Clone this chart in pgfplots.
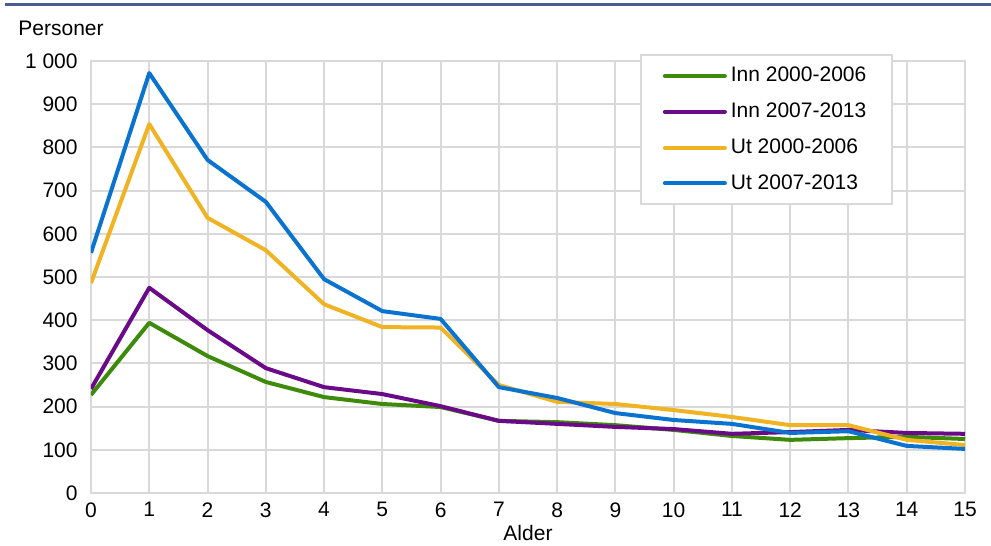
\documentclass[border=0pt]{standalone}
\usepackage{pgfplots}
\pgfplotsset{compat=1.18}
\usepackage{fontspec}
\setmainfont{Liberation Sans}
\definecolor{cgreen}{HTML}{3E8A0A}
\definecolor{cpurple}{HTML}{6A0A88}
\definecolor{cyellow}{HTML}{F0B323}
\definecolor{cblue}{HTML}{0A73D0}
\definecolor{cgrid}{HTML}{D9D9D9}
\definecolor{ctop}{HTML}{475E8E}
\begin{document}
\fontsize{10.5pt}{12.5pt}\selectfont
\begin{tikzpicture}
\useasboundingbox (-45.5pt,-26.5pt) rectangle (450pt,246.5pt);
\draw[ctop, line width=1.5pt] (-43pt,244pt) -- (450pt,244pt);
\node[anchor=west, inner sep=0pt] at (-36.5pt,232.5pt) {Personer};
\begin{axis}[
  at={(0,0)}, anchor=origin,
  scale only axis, width=437pt, height=216pt,
  xmin=0, xmax=15, ymin=0, ymax=1000,
  xtick={0,...,15}, ytick={0,100,...,1000},
  yticklabels={0,100,200,300,400,500,600,700,800,900,1 000},
  /pgf/number format/assume math mode=true,
  ticklabel style={font=\fontsize{10.5pt}{12.5pt}\selectfont},
  tick style={draw=none},
  grid=major,
  grid style={cgrid, line width=1pt},
  axis line style={cgrid, line width=1pt},
  yticklabel style={xshift=-3pt},
  xticklabel style={yshift=-1pt},
  xlabel={Alder},
  label style={font=\fontsize{10.5pt}{12.5pt}\selectfont},
  xlabel style={yshift=3pt},
  legend cell align=left,
  legend style={at={(0.628,1.016)}, anchor=north west, draw=cgrid, line width=1pt,
    font=\fontsize{10.5pt}{12.5pt}\selectfont, inner xsep=11pt, inner ysep=4pt,
    row sep=5pt},
  legend image code/.code={\draw[#1, line width=2pt, line cap=round] (0pt,0pt) -- (30pt,0pt);},
  every axis plot/.append style={line width=2pt, line join=round},
]
\addplot[cgreen] coordinates {(0,227)(1,394)(2,317)(3,257)(4,222)(5,206)(6,199)(7,167)(8,164)(9,157)(10,146)(11,132)(12,123)(13,127)(14,130)(15,125)};
\addlegendentry{Inn 2000-2006}
\addplot[cpurple] coordinates {(0,241)(1,475)(2,377)(3,289)(4,245)(5,229)(6,201)(7,167)(8,160)(9,153)(10,148)(11,137)(12,141)(13,146)(14,139)(15,137)};
\addlegendentry{Inn 2007-2013}
\addplot[cyellow] coordinates {(0,486)(1,854)(2,637)(3,562)(4,437)(5,384)(6,383)(7,250)(8,211)(9,206)(10,192)(11,176)(12,157)(13,157)(14,123)(15,111)};
\addlegendentry{Ut 2000-2006}
\addplot[cblue] coordinates {(0,556)(1,972)(2,771)(3,674)(4,495)(5,421)(6,403)(7,245)(8,220)(9,185)(10,169)(11,160)(12,139)(13,143)(14,109)(15,102)};
\addlegendentry{Ut 2007-2013}
\end{axis}
\end{tikzpicture}
\end{document}
